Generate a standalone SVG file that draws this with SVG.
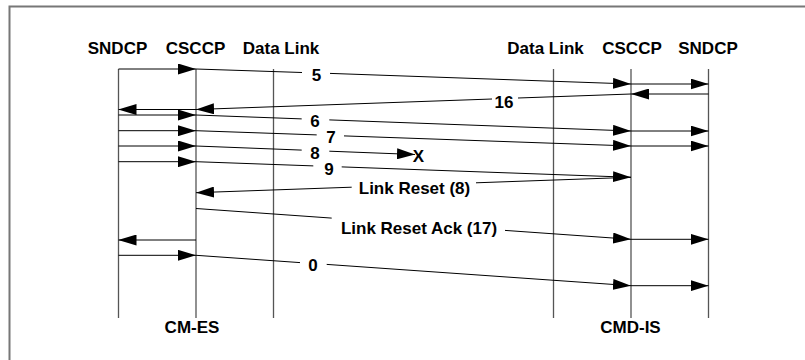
<svg xmlns="http://www.w3.org/2000/svg" width="805" height="360" viewBox="0 0 805 360">
<style>
text{font-family:"Liberation Sans",Arial,sans-serif;font-weight:bold;font-size:17px;fill:#000}
.hd{text-anchor:middle}
.life{stroke:#555;stroke-width:1.3;fill:none}
.msg{stroke:#000;stroke-width:1;fill:none}
.arr{marker-end:url(#ah)}
.frame{fill:none;stroke:#777;stroke-width:2}
</style>
<defs>
<marker id="ah" markerUnits="userSpaceOnUse" markerWidth="18" markerHeight="11" refX="18" refY="5.5" orient="auto">
<path d="M0,0 L18,5.5 L0,11 z" fill="#000"/>
</marker>
</defs>
<rect width="805" height="360" fill="#fff"/>
<rect class="frame" x="9.5" y="6.5" width="820" height="380"/>
<g id="es-sndcp"><line class="life" x1="118.5" y1="69" x2="118.5" y2="318"/><text class="hd" x="117.5" y="54">SNDCP</text></g>
<g id="es-csccp"><line class="life" x1="196" y1="69" x2="196" y2="318"/><text class="hd" x="195.5" y="54">CSCCP</text></g>
<g id="es-datalink"><line class="life" x1="273.5" y1="69" x2="273.5" y2="318"/><text class="hd" x="281" y="54">Data Link</text></g>
<g id="is-datalink"><line class="life" x1="553.5" y1="69" x2="553.5" y2="318"/><text class="hd" x="545.5" y="54">Data Link</text></g>
<g id="is-csccp"><line class="life" x1="631" y1="69" x2="631" y2="318"/><text class="hd" x="632" y="54">CSCCP</text></g>
<g id="is-sndcp"><line class="life" x1="708.5" y1="69" x2="708.5" y2="318"/><text class="hd" x="708" y="54">SNDCP</text></g>
<g id="cm-es"><text class="hd" x="192" y="333">CM-ES</text></g>
<g id="cmd-is"><text class="hd" x="630.5" y="333">CMD-IS</text></g>
<g id="connectors">
<!-- 5 -->
<line class="msg arr" x1="118.5" y1="69" x2="196" y2="69"/>
<line class="msg" x1="196" y1="69" x2="302" y2="72.5"/>
<line class="msg arr" x1="330" y1="73.4" x2="631" y2="84"/>
<line class="msg arr" x1="631" y1="84" x2="708.5" y2="84"/>
<text class="hd" x="316.5" y="81">5</text>
<!-- 16 -->
<line class="msg arr" x1="708.5" y1="94" x2="631" y2="94"/>
<line class="msg" x1="631" y1="94" x2="518" y2="98"/>
<line class="msg arr" x1="492" y1="99" x2="196" y2="109.5"/>
<line class="msg arr" x1="196" y1="109.5" x2="118.5" y2="109.5"/>
<text class="hd" x="504" y="108">16</text>
<!-- 6 -->
<line class="msg arr" x1="118.5" y1="115" x2="196" y2="115"/>
<line class="msg" x1="196" y1="115" x2="301.7" y2="118.9"/>
<line class="msg arr" x1="329.3" y1="119.9" x2="631" y2="131"/>
<line class="msg arr" x1="631" y1="131" x2="708.5" y2="131"/>
<text class="hd" x="315" y="127">6</text>
<!-- 7 -->
<line class="msg arr" x1="118.5" y1="130.7" x2="196" y2="130.7"/>
<line class="msg" x1="196" y1="130.7" x2="316.7" y2="134.9"/>
<line class="msg arr" x1="344" y1="135.9" x2="631" y2="146"/>
<line class="msg arr" x1="631" y1="146" x2="708.5" y2="146"/>
<text class="hd" x="331" y="143">7</text>
<!-- 8 -->
<line class="msg arr" x1="118.5" y1="146" x2="196" y2="146"/>
<line class="msg" x1="196" y1="146" x2="301.7" y2="150.1"/>
<line class="msg arr" x1="329.3" y1="151.2" x2="415" y2="154.5"/>
<text class="hd" x="315" y="159">8</text>
<text class="hd" x="418.5" y="162">X</text>
<!-- 9 -->
<line class="msg arr" x1="118.5" y1="161.7" x2="196" y2="161.7"/>
<line class="msg" x1="196" y1="161.7" x2="313.3" y2="165.9"/>
<line class="msg arr" x1="341.7" y1="166.9" x2="631" y2="177.3"/>
<text class="hd" x="329" y="175">9</text>
<!-- Link Reset (8) -->
<line class="msg" x1="631" y1="177.3" x2="476" y2="182.8"/>
<line class="msg arr" x1="351.7" y1="187.2" x2="196" y2="192.7"/>
<text class="hd" x="414.5" y="194">Link Reset (8)</text>
<!-- Link Reset Ack (17) -->
<line class="msg" x1="196" y1="208.5" x2="331.7" y2="218.1"/>
<line class="msg arr" x1="505" y1="230.4" x2="631" y2="239.3"/>
<line class="msg arr" x1="631" y1="239.3" x2="708.5" y2="239.3"/>
<text class="hd" x="419" y="234">Link Reset Ack (17)</text>
<line class="msg arr" x1="196" y1="240" x2="118.5" y2="240"/>
<!-- 0 -->
<line class="msg arr" x1="118.5" y1="255.3" x2="196" y2="255.3"/>
<line class="msg" x1="196" y1="255.3" x2="300" y2="262.6"/>
<line class="msg arr" x1="326.7" y1="264.4" x2="631" y2="285.7"/>
<line class="msg arr" x1="631" y1="285.7" x2="708.5" y2="285.7"/>
<text class="hd" x="313" y="271">0</text>
</g>
</svg>
